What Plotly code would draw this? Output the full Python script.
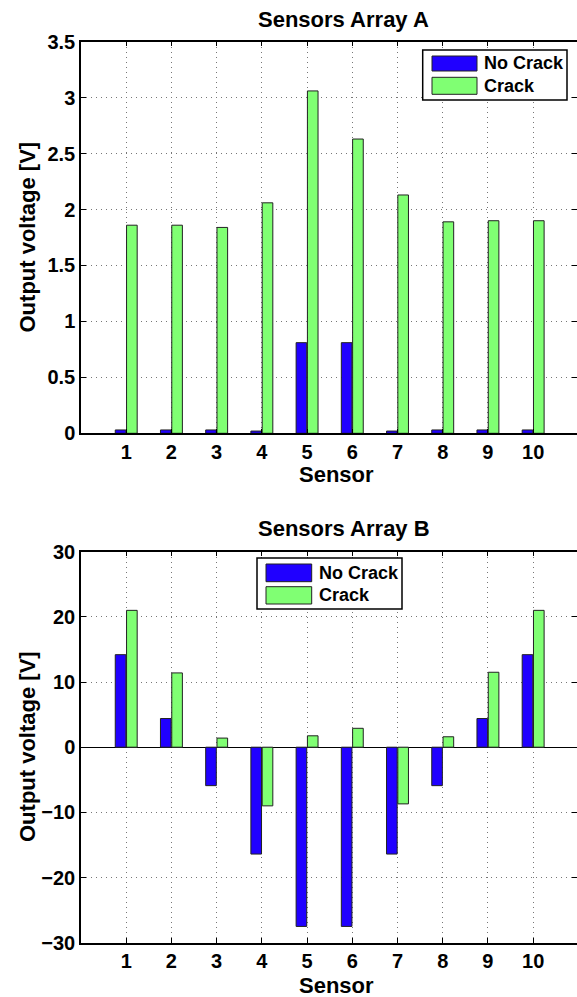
import plotly.graph_objects as go

sensors = [1, 2, 3, 4, 5, 6, 7, 8, 9, 10]
a_no_crack = [0.03, 0.03, 0.03, 0.02, 0.81, 0.81, 0.02, 0.03, 0.03, 0.03]
a_crack = [1.86, 1.86, 1.84, 2.06, 3.06, 2.63, 2.13, 1.89, 1.90, 1.90]
b_no_crack = [14.2, 4.4, -5.9, -16.4, -27.5, -27.5, -16.4, -5.9, 4.4, 14.2]
b_crack = [21.0, 11.4, 1.4, -9.0, 1.75, 2.9, -8.7, 1.6, 11.5, 21.0]
series_names = ["No Crack", "Crack"]
titles = ["Sensors Array A", "Sensors Array B"]
a_ticks = [0, 0.5, 1, 1.5, 2, 2.5, 3, 3.5]
b_ticks = [-30, -20, -10, 0, 10, 20, 30]

W, H = 577, 997
BLUE = "rgb(32,0,255)"
GREEN = "rgb(128,255,115)"
FONT = "Liberation Sans"


def px(x):
    return x / W


def py(y):
    return 1 - y / H


fig = go.Figure()
for vals, col, name in [(a_no_crack, BLUE, series_names[0]), (a_crack, GREEN, series_names[1])]:
    fig.add_trace(go.Bar(x=sensors, y=vals, name=name, marker=dict(color=col, line=dict(color="#222", width=1)),
                         xaxis="x", yaxis="y", showlegend=False))
for vals, col, name in [(b_no_crack, BLUE, series_names[0]), (b_crack, GREEN, series_names[1])]:
    fig.add_trace(go.Bar(x=sensors, y=vals, name=name, marker=dict(color=col, line=dict(color="#222", width=1)),
                         xaxis="x2", yaxis="y2", showlegend=False))

xcommon = dict(range=[0, 10.97], tickvals=sensors, ticks="inside", ticklen=5, tickcolor="black",
               showline=True, linecolor="black", linewidth=1.5, mirror="ticks",
               showgrid=True, gridcolor="#777", griddash="1px,4px", gridwidth=1,
               zeroline=False, automargin=False,
               tickfont=dict(family=FONT, size=20, color="black", weight="bold"))
ycommon = dict(ticks="inside", ticklen=5, tickcolor="black",
               showline=True, linecolor="black", linewidth=1.5, mirror="ticks",
               showgrid=True, gridcolor="#777", griddash="1px,4px", gridwidth=1,
               automargin=False,
               tickfont=dict(family=FONT, size=20, color="black", weight="bold"))

fig.update_layout(
    width=W, height=H, margin=dict(l=0, r=0, t=0, b=0),
    paper_bgcolor="white", plot_bgcolor="white",
    barmode="group", bargap=0.5, bargroupgap=0.06,
    showlegend=False,
    xaxis=dict(domain=[px(81), 1], anchor="y", **xcommon),
    yaxis=dict(domain=[py(433.3), py(41.7)], anchor="x", range=[0, 3.5], tickvals=a_ticks,
               zeroline=False, **ycommon),
    xaxis2=dict(domain=[px(81), 1], anchor="y2", **xcommon),
    yaxis2=dict(domain=[py(942.7), py(551.7)], anchor="x2", range=[-30, 30], tickvals=b_ticks,
                zeroline=True, zerolinecolor="black", zerolinewidth=1.2, **ycommon),
)

annots = []
shapes = []
label_font = dict(family=FONT, size=22, color="black", weight="bold")
legend_font = dict(family=FONT, size=18, color="black", weight="bold")

# titles and axis labels
for title, ty, xly, yly in [(titles[0], 19, 475, 237.5), (titles[1], 528, 985, 747)]:
    annots.append(dict(text=title, x=px(343.5), y=py(ty), xref="paper", yref="paper",
                       xanchor="center", yanchor="middle", showarrow=False, font=label_font))
    annots.append(dict(text="Sensor", x=px(336.7), y=py(xly), xref="paper", yref="paper",
                       xanchor="center", yanchor="middle", showarrow=False, font=label_font))
    annots.append(dict(text="Output voltage [V]", x=px(27), y=py(yly), xref="paper", yref="paper",
                       xanchor="center", yanchor="middle", showarrow=False, textangle=-90, font=label_font))

# legends drawn manually (box, swatches, text)
legends = [
    dict(box=(422.7, 50, 567, 100), sw=(432, 477), rows=[(56, 71), (77.3, 94.3)], tx=482),
    dict(box=(257, 558, 402, 609), sw=(266, 311.7), rows=[(564, 581.7), (586.7, 604)], tx=316.7),
]
for lg in legends:
    x0, y0, x1, y1 = lg["box"]
    shapes.append(dict(type="rect", xref="paper", yref="paper", x0=px(x0), x1=px(x1), y0=py(y1), y1=py(y0),
                       line=dict(color="black", width=1.5), fillcolor="white", layer="above"))
    for (r0, r1), col, name in zip(lg["rows"], [BLUE, GREEN], series_names):
        shapes.append(dict(type="rect", xref="paper", yref="paper", x0=px(lg["sw"][0]), x1=px(lg["sw"][1]),
                           y0=py(r1), y1=py(r0), line=dict(color="#222", width=1), fillcolor=col, layer="above"))
        annots.append(dict(text=name, x=px(lg["tx"]), y=py((r0 + r1) / 2), xref="paper", yref="paper",
                           xanchor="left", yanchor="middle", showarrow=False, font=legend_font))

fig.update_layout(annotations=annots, shapes=shapes)
fig.write_html("out.html")
